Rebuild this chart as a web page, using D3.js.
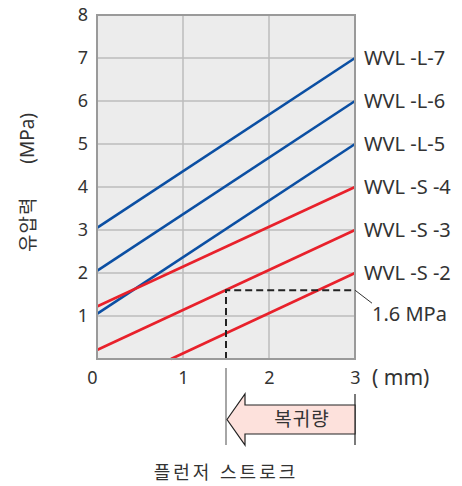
<!DOCTYPE html>
<html>
<head>
<meta charset="utf-8">
<script src="https://cdn.jsdelivr.net/npm/d3@7"></script>
<style>
  body { margin: 0; background: #fff; }
  text { font-family: "Noto Sans", "Noto Sans CJK KR", sans-serif; fill: #333; }
</style>
</head>
<body>
<svg id="chart" width="462" height="486"></svg>
<script>
// series: stroke (mm) vs pressure (MPa)
const seriesNames = ["WVL -L-7", "WVL -L-6", "WVL -L-5", "WVL -S -4", "WVL -S -3", "WVL -S -2"]
const seriesColors = ["#0b4fa3", "#0b4fa3", "#0b4fa3", "#e8212b", "#e8212b", "#e8212b"]
const seriesPoints = [
    [[0, 3.05], [3, 7]],
    [[0, 2.05], [3, 6]],
    [[0, 1.05], [3, 5]],
    [[0, 1.22], [3, 4]],
    [[0, 0.21], [3, 3]],
    [[0.86, 0], [3, 2]]
]
const xTicks = [0, 1, 2, 3]
const yTicks = [1, 2, 3, 4, 5, 6, 7, 8]
const markStroke = 1.5   // mm
const markPressure = 1.6 // MPa
const returnRange = [1.5, 3]

const margin = {left: 97, top: 15, right: 107, bottom: 127}
const width = 462 - margin.left - margin.right
const height = 486 - margin.top - margin.bottom

var svg = d3.select("#chart")
var x = d3.scaleLinear().domain([0, 3]).range([margin.left, margin.left + width])
var y = d3.scaleLinear().domain([0, 8]).range([margin.top + height, margin.top])

// plot background
svg.append("rect")
    .attr("x", x(0)).attr("y", y(8))
    .attr("width", x(3) - x(0)).attr("height", y(0) - y(8))
    .attr("fill", "#ececec")

// grid
svg.selectAll(".hgrid").data(yTicks.slice(0, -1)).enter().append("line")
    .attr("x1", x(0)).attr("x2", x(3))
    .attr("y1", d => y(d)).attr("y2", d => y(d))
    .attr("stroke", "#bcbcbc").attr("stroke-width", 1.5)
svg.selectAll(".vgrid").data(xTicks.slice(1, -1)).enter().append("line")
    .attr("x1", d => x(d)).attr("x2", d => x(d))
    .attr("y1", y(0)).attr("y2", y(8))
    .attr("stroke", "#bcbcbc").attr("stroke-width", 1.5)

// series lines
var line = d3.line().x(d => x(d[0])).y(d => y(d[1]))
seriesPoints.forEach((pts, i) => {
    svg.append("path").attr("d", line(pts))
        .attr("fill", "none").attr("stroke", seriesColors[i]).attr("stroke-width", 2.6)
})

// dashed marker 1.6 MPa at 1.5 mm
svg.append("path")
    .attr("d", "M" + x(markStroke) + "," + y(0) + "V" + y(markPressure) + "H" + x(3))
    .attr("fill", "none").attr("stroke", "#222").attr("stroke-width", 2)
    .attr("stroke-dasharray", "7,4")

// frame
svg.append("rect")
    .attr("x", x(0)).attr("y", y(8))
    .attr("width", x(3) - x(0)).attr("height", y(0) - y(8))
    .attr("fill", "none").attr("stroke", "#9a9a9a").attr("stroke-width", 2)

// axes
var yAxis = svg.append("g").attr("transform", "translate(" + (x(0) - 1) + ",0)")
    .call(d3.axisLeft(y).tickValues(yTicks).tickSize(0).tickPadding(8))
yAxis.select(".domain").remove()
yAxis.selectAll("text").style("font-size", "18px").attr("fill", "#333")

var xAxis = svg.append("g").attr("transform", "translate(0," + (y(0) + 1) + ")")
    .call(d3.axisBottom(x).tickValues(xTicks).tickFormat(d3.format("d")).tickSize(0).tickPadding(11))
xAxis.select(".domain").remove()
xAxis.selectAll("text").style("font-size", "18px").attr("fill", "#333")
    .attr("dx", d => d === 0 ? -5 : 0)

svg.append("text").attr("x", x(3) + 17).attr("y", y(0) + 26)
    .style("font-size", "21px").text("( mm)")

// series labels
seriesNames.forEach((name, i) => {
    var end = seriesPoints[i][seriesPoints[i].length - 1]
    svg.append("text").attr("x", x(3) + 9).attr("y", y(end[1]))
        .attr("dy", "0.36em").style("font-size", "20px").text(name)
})

// 1.6 MPa callout
svg.append("line")
    .attr("x1", x(3)).attr("y1", y(markPressure))
    .attr("x2", x(3) + 17).attr("y2", y(markPressure) + 13)
    .attr("stroke", "#333").attr("stroke-width", 1)
svg.append("text").attr("x", x(3) + 17).attr("y", y(markPressure) + 31)
    .style("font-size", "20px").text(markPressure + " MPa")

// y title (rotated, two parts)
svg.append("text")
    .attr("transform", "translate(34,113) rotate(-90)")
    .attr("text-anchor", "end").style("font-size", "19px").attr("fill", "#444")
    .text("(MPa)")
svg.append("text")
    .attr("transform", "translate(35,252) rotate(-90)")
    .attr("text-anchor", "start").style("font-size", "19px").style("letter-spacing", "1px").attr("fill", "#444")
    .text("유압력")

// return arrow
var aL = x(returnRange[0]), aR = x(returnRange[1])
svg.append("line").attr("x1", aL).attr("x2", aL).attr("y1", y(0) + 9).attr("y2", 445)
    .attr("stroke", "#888").attr("stroke-width", 1.5)
svg.append("line").attr("x1", aR).attr("x2", aR).attr("y1", 394).attr("y2", 445)
    .attr("stroke", "#222").attr("stroke-width", 1.2)
var headX = aL + 19
svg.append("path")
    .attr("d", "M" + (aL + 1) + ",419.5L" + headX + ",394V405H" + aR + "V434H" + headX + "V445Z")
    .attr("fill", "#fde1dc").attr("stroke", "#222").attr("stroke-width", 1.2)
svg.append("text").attr("x", (headX + aR) / 2 + 2).attr("y", 419.5).attr("dy", "0.36em")
    .attr("text-anchor", "middle").style("font-size", "19px").style("letter-spacing", "1px").text("복귀량")

// x title
svg.append("text").attr("x", x(markStroke)).attr("y", 473).attr("dy", "0.36em")
    .attr("text-anchor", "middle").style("font-size", "18px").style("letter-spacing", "3px").attr("fill", "#444")
    .text("플런저 스트로크")
</script>
</body>
</html>
